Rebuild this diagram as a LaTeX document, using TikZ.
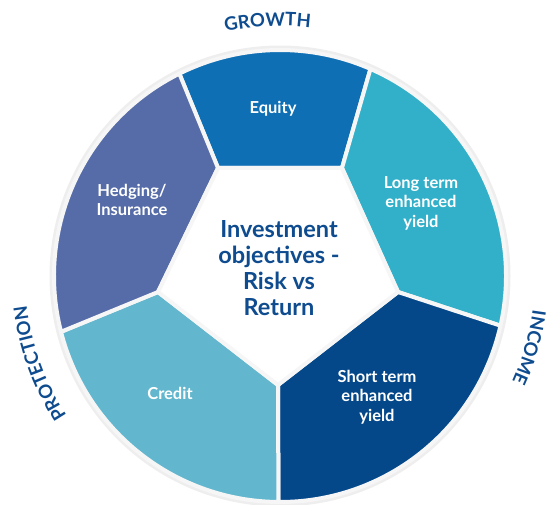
\documentclass[tikz,border=0pt]{standalone}
\usepackage{fontspec}
\setmainfont{Lato}
\usetikzlibrary{calc,decorations.text}
\definecolor{cEquity}{RGB}{14,111,181}
\definecolor{cLong}{RGB}{51,176,201}
\definecolor{cShort}{RGB}{4,72,138}
\definecolor{cCredit}{RGB}{98,183,206}
\definecolor{cHedge}{RGB}{86,108,168}
\definecolor{cTitle}{RGB}{14,76,143}
\definecolor{cGap}{RGB}{246,246,246}
\definecolor{cRing}{RGB}{238,238,238}
\begin{document}
\begin{tikzpicture}[x=1pt,y=1pt,
  seg/.style={line width=4pt, draw=cGap, line join=round},
  seglabel/.style={text=white, font=\bfseries\fontsize{16.5}{19.5}\selectfont, align=center},
  centrelabel/.style={text=cTitle, font=\bfseries\fontsize{23.5}{26}\selectfont, align=center}]
\useasboundingbox (0,0) rectangle (551,-505);
\coordinate (C) at (280,-276);
% outer ring
\draw[cRing, line width=3pt] (C) circle[radius=229pt];
% outer divider points
\coordinate (O1) at ($(C)+(116.45:226)$);
\coordinate (O2) at ($(C)+(66.4:226)$);
\coordinate (O3) at ($(C)+(-12.7:226)$);
\coordinate (O4) at ($(C)+(-90.4:226)$);
\coordinate (O5) at ($(C)+(194.3:226)$);
% pentagon vertices
\coordinate (V1) at (218,-168);
\coordinate (V2) at (342,-168);
\coordinate (V3) at (398,-292);
\coordinate (V4) at (278,-385);
\coordinate (V5) at (158,-292);
% segments
\filldraw[seg, fill=cEquity] (O1) arc[start angle=116.45, end angle=66.4, radius=226pt] -- (V2) -- (V1) -- cycle;
\filldraw[seg, fill=cLong] (O2) arc[start angle=66.4, end angle=-12.7, radius=226pt] -- (V3) -- (V2) -- cycle;
\filldraw[seg, fill=cShort] (O3) arc[start angle=-12.7, end angle=-90.4, radius=226pt] -- (V4) -- (V3) -- cycle;
\filldraw[seg, fill=cCredit] (O4) arc[start angle=-90.4, end angle=-165.7, radius=226pt] -- (V5) -- (V4) -- cycle;
\filldraw[seg, fill=cHedge] (O5) arc[start angle=194.3, end angle=116.45, radius=226pt] -- (V1) -- (V5) -- cycle;
\filldraw[seg, fill=white] (V1) -- (V2) -- (V3) -- (V4) -- (V5) -- cycle;
% segment labels
\node[seglabel, anchor=base] (equity) at (273,-114) {Equity};
\node[seglabel] (long) at (421,-203) {Long term\\enhanced\\yield};
\node[seglabel] (short) at (377,-397) {Short term\\enhanced\\yield};
\node[seglabel, anchor=base] (credit) at (170,-399) {Credit};
\node[seglabel] (hedge) at (132,-200) {Hedging/\\Insurance};
\node[centrelabel] (centre) at (279,-268) {Investment\\objectives -\\Risk vs\\Return};
% curved outer labels
\path[decorate, decoration={text along path, text align=center,
  text={|\bfseries\fontsize{18.5}{18.5}\selectfont\color{cTitle}|GROWTH}}]
  ($(C)+(112.8:250)$) arc[start angle=112.8, end angle=72.8, radius=250pt];
\path[decorate, decoration={text along path, text align=center,
  text={|\bfseries\fontsize{18.5}{18.5}\selectfont\color{cTitle}|PROTECTION}}]
  ($(C)+(225:255)$) arc[start angle=225, end angle=175, radius=255pt];
\path[decorate, decoration={text along path, text align=center,
  text={|\bfseries\fontsize{18.5}{18.5}\selectfont\color{cTitle}|INCOME}}]
  ($(C)+(9:255)$) arc[start angle=9, end angle=-41, radius=255pt];
\end{tikzpicture}
\end{document}
